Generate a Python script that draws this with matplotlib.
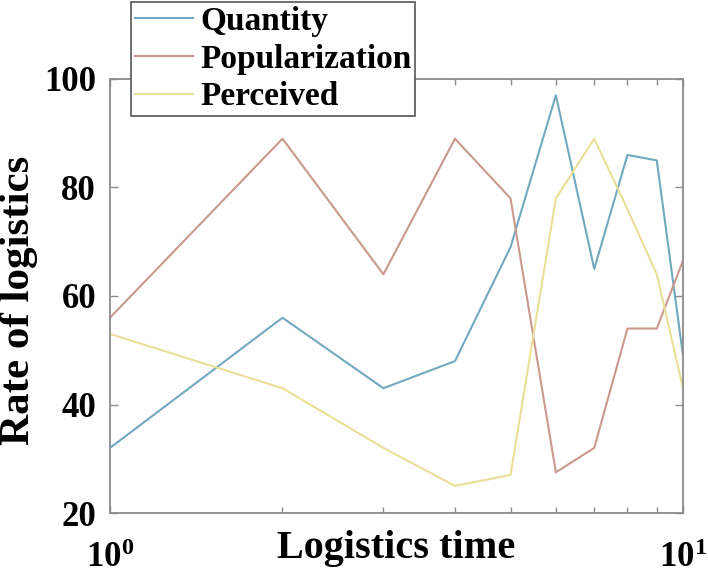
import matplotlib
matplotlib.use("Agg")
import matplotlib.pyplot as plt
from matplotlib.ticker import FixedLocator, FixedFormatter, NullFormatter

plt.rcParams['font.family'] = ['Liberation Serif', 'DejaVu Serif']
plt.rcParams['font.weight'] = 'bold'
plt.rcParams['mathtext.fontset'] = 'custom'
plt.rcParams['mathtext.rm'] = 'Liberation Serif:bold'
plt.rcParams['mathtext.bf'] = 'Liberation Serif:bold'
plt.rcParams['mathtext.default'] = 'bf'

x = [1, 2, 3, 4, 5, 6, 7, 8, 9, 10]
quantity = [32, 56, 43, 48, 69, 97, 65, 86, 85, 49]
popularization = [56, 89, 64, 89, 78, 27.5, 32, 54, 54, 66.5]
perceived = [53, 43, 32, 25, 27, 78, 89, 76, 64, 43]
series_names = ['Quantity', 'Popularization', 'Perceived']
colors = ['#72a9bf', '#c9998c', '#e9df98']
yticks = [20, 40, 60, 80, 100]
xtick_labels = [r'$10^{0}$', r'$10^{1}$']

W, H = 708, 574
fig = plt.figure(figsize=(W / 100, H / 100), dpi=100)
L, R, T, B = 110, 683, 79, 513
ax = fig.add_axes([L / W, 1 - B / H, (R - L) / W, (B - T) / H])

for vals, name, c in zip([quantity, popularization, perceived], series_names, colors):
    ax.plot(x, vals, color=c, lw=1.5, label=name)

ax.set_xscale('log')
ax.set_xlim(1, 10)
ax.set_ylim(20, 100)
ax.xaxis.set_major_locator(FixedLocator([1, 10]))
ax.xaxis.set_major_formatter(FixedFormatter(xtick_labels))
ax.xaxis.set_minor_locator(FixedLocator([2, 3, 4, 5, 6, 7, 8, 9]))
ax.xaxis.set_minor_formatter(NullFormatter())
ax.set_yticks(yticks)

for s in ax.spines.values():
    s.set_color('#8c8c8c')
    s.set_linewidth(1.3)

ax.tick_params(axis='both', which='both', direction='in', colors='#8c8c8c',
               top=True, right=True, labelcolor='black')
ax.tick_params(axis='both', which='major', length=6, width=1.0)
ax.tick_params(axis='x', which='minor', length=4, width=1.0)
ax.tick_params(axis='y', which='major', labelsize=25, pad=10)
ax.tick_params(axis='x', which='major', labelsize=25, pad=21)

ax.set_xlabel('Logistics time', fontsize=29, fontweight='bold')
ax.xaxis.set_label_coords(0.5, -0.04)
ax.set_ylabel('Rate of logistics', fontsize=31, fontweight='bold')
ax.yaxis.set_label_coords(-0.125, 0.49)

leg = ax.legend(loc='upper left', bbox_to_anchor=(131 / W, 1 - 2 / H),
                bbox_transform=fig.transFigure, fontsize=24,
                frameon=True, fancybox=False, framealpha=1,
                edgecolor='#555555', handlelength=1.75, handletextpad=0.2,
                borderpad=0.12, labelspacing=0.2, borderaxespad=0)
leg.get_frame().set_linewidth(1.2)
for t in leg.get_texts():
    t.set_fontweight('bold')

fig.savefig('out.png', dpi=100)
